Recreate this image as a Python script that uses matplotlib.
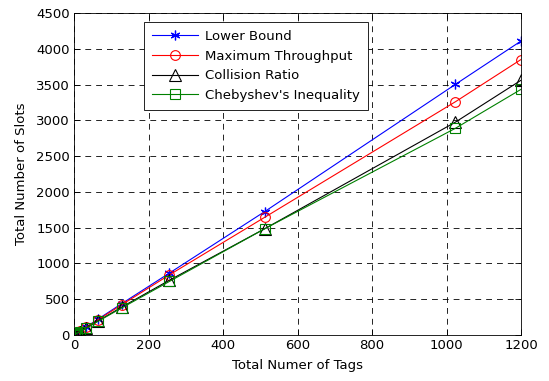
import matplotlib
matplotlib.use("Agg")
import matplotlib.pyplot as plt

plt.rcParams['font.family'] = ['DejaVu Sans']

tags = [2, 4, 8, 16, 32, 64, 128, 256, 512, 1024, 1200]
lower_bound = [7, 14, 28, 55, 110, 220, 438, 865, 1725, 3503, 4108]
max_throughput = [6, 13, 26, 53, 106, 212, 422, 840, 1645, 3260, 3850]
collision_ratio = [6, 12, 24, 48, 97, 194, 390, 765, 1485, 2975, 3560]
chebyshev = [6, 12, 24, 47, 95, 190, 378, 748, 1485, 2889, 3433]

FS = 9.5

fig = plt.figure(figsize=(5.49, 3.81), dpi=100)
ax = fig.add_axes([74/549, 1-335/381, 447/549, 322/381])

ax.plot(tags, lower_bound, color='#0000ff', lw=0.8, marker=(6, 2, 0), ms=7, mew=0.9, label='Lower Bound')
ax.plot(tags, max_throughput, color='#ff0000', lw=0.8, marker='o', ms=7, mfc='none', mew=0.8, label='Maximum Throughput')
ax.plot(tags, collision_ratio, color='#000000', lw=0.8, marker='^', ms=8, mfc='none', mew=0.8, label='Collision Ratio')
ax.plot(tags, chebyshev, color='#008000', lw=0.8, marker='s', ms=7, mfc='none', mew=0.8, label="Chebyshev's Inequality")

ax.set_xlim(0, 1200)
ax.set_ylim(0, 4500)
ax.set_xticks(range(0, 1201, 200))
ax.set_yticks(range(0, 4501, 500))
ax.grid(True, color='black', linestyle=(0, (7, 6)), linewidth=0.6)
ax.tick_params(direction='in', top=True, right=True, labelsize=FS, length=4, width=0.6, pad=3)
for s in ax.spines.values():
    s.set_linewidth(0.6)
ax.set_xlabel('Total Numer of Tags', fontsize=FS, labelpad=5)
ax.set_ylabel('Total Number of Slots', fontsize=FS, labelpad=6)

leg = ax.legend(loc='upper left', bbox_to_anchor=(0.157, 0.972), borderaxespad=0,
                fontsize=FS, fancybox=False, framealpha=1, edgecolor='black',
                handlelength=3.5, labelspacing=0.5, borderpad=0.6, handletextpad=0.5)
leg.get_frame().set_linewidth(0.6)

fig.savefig('out.png', dpi=100)
